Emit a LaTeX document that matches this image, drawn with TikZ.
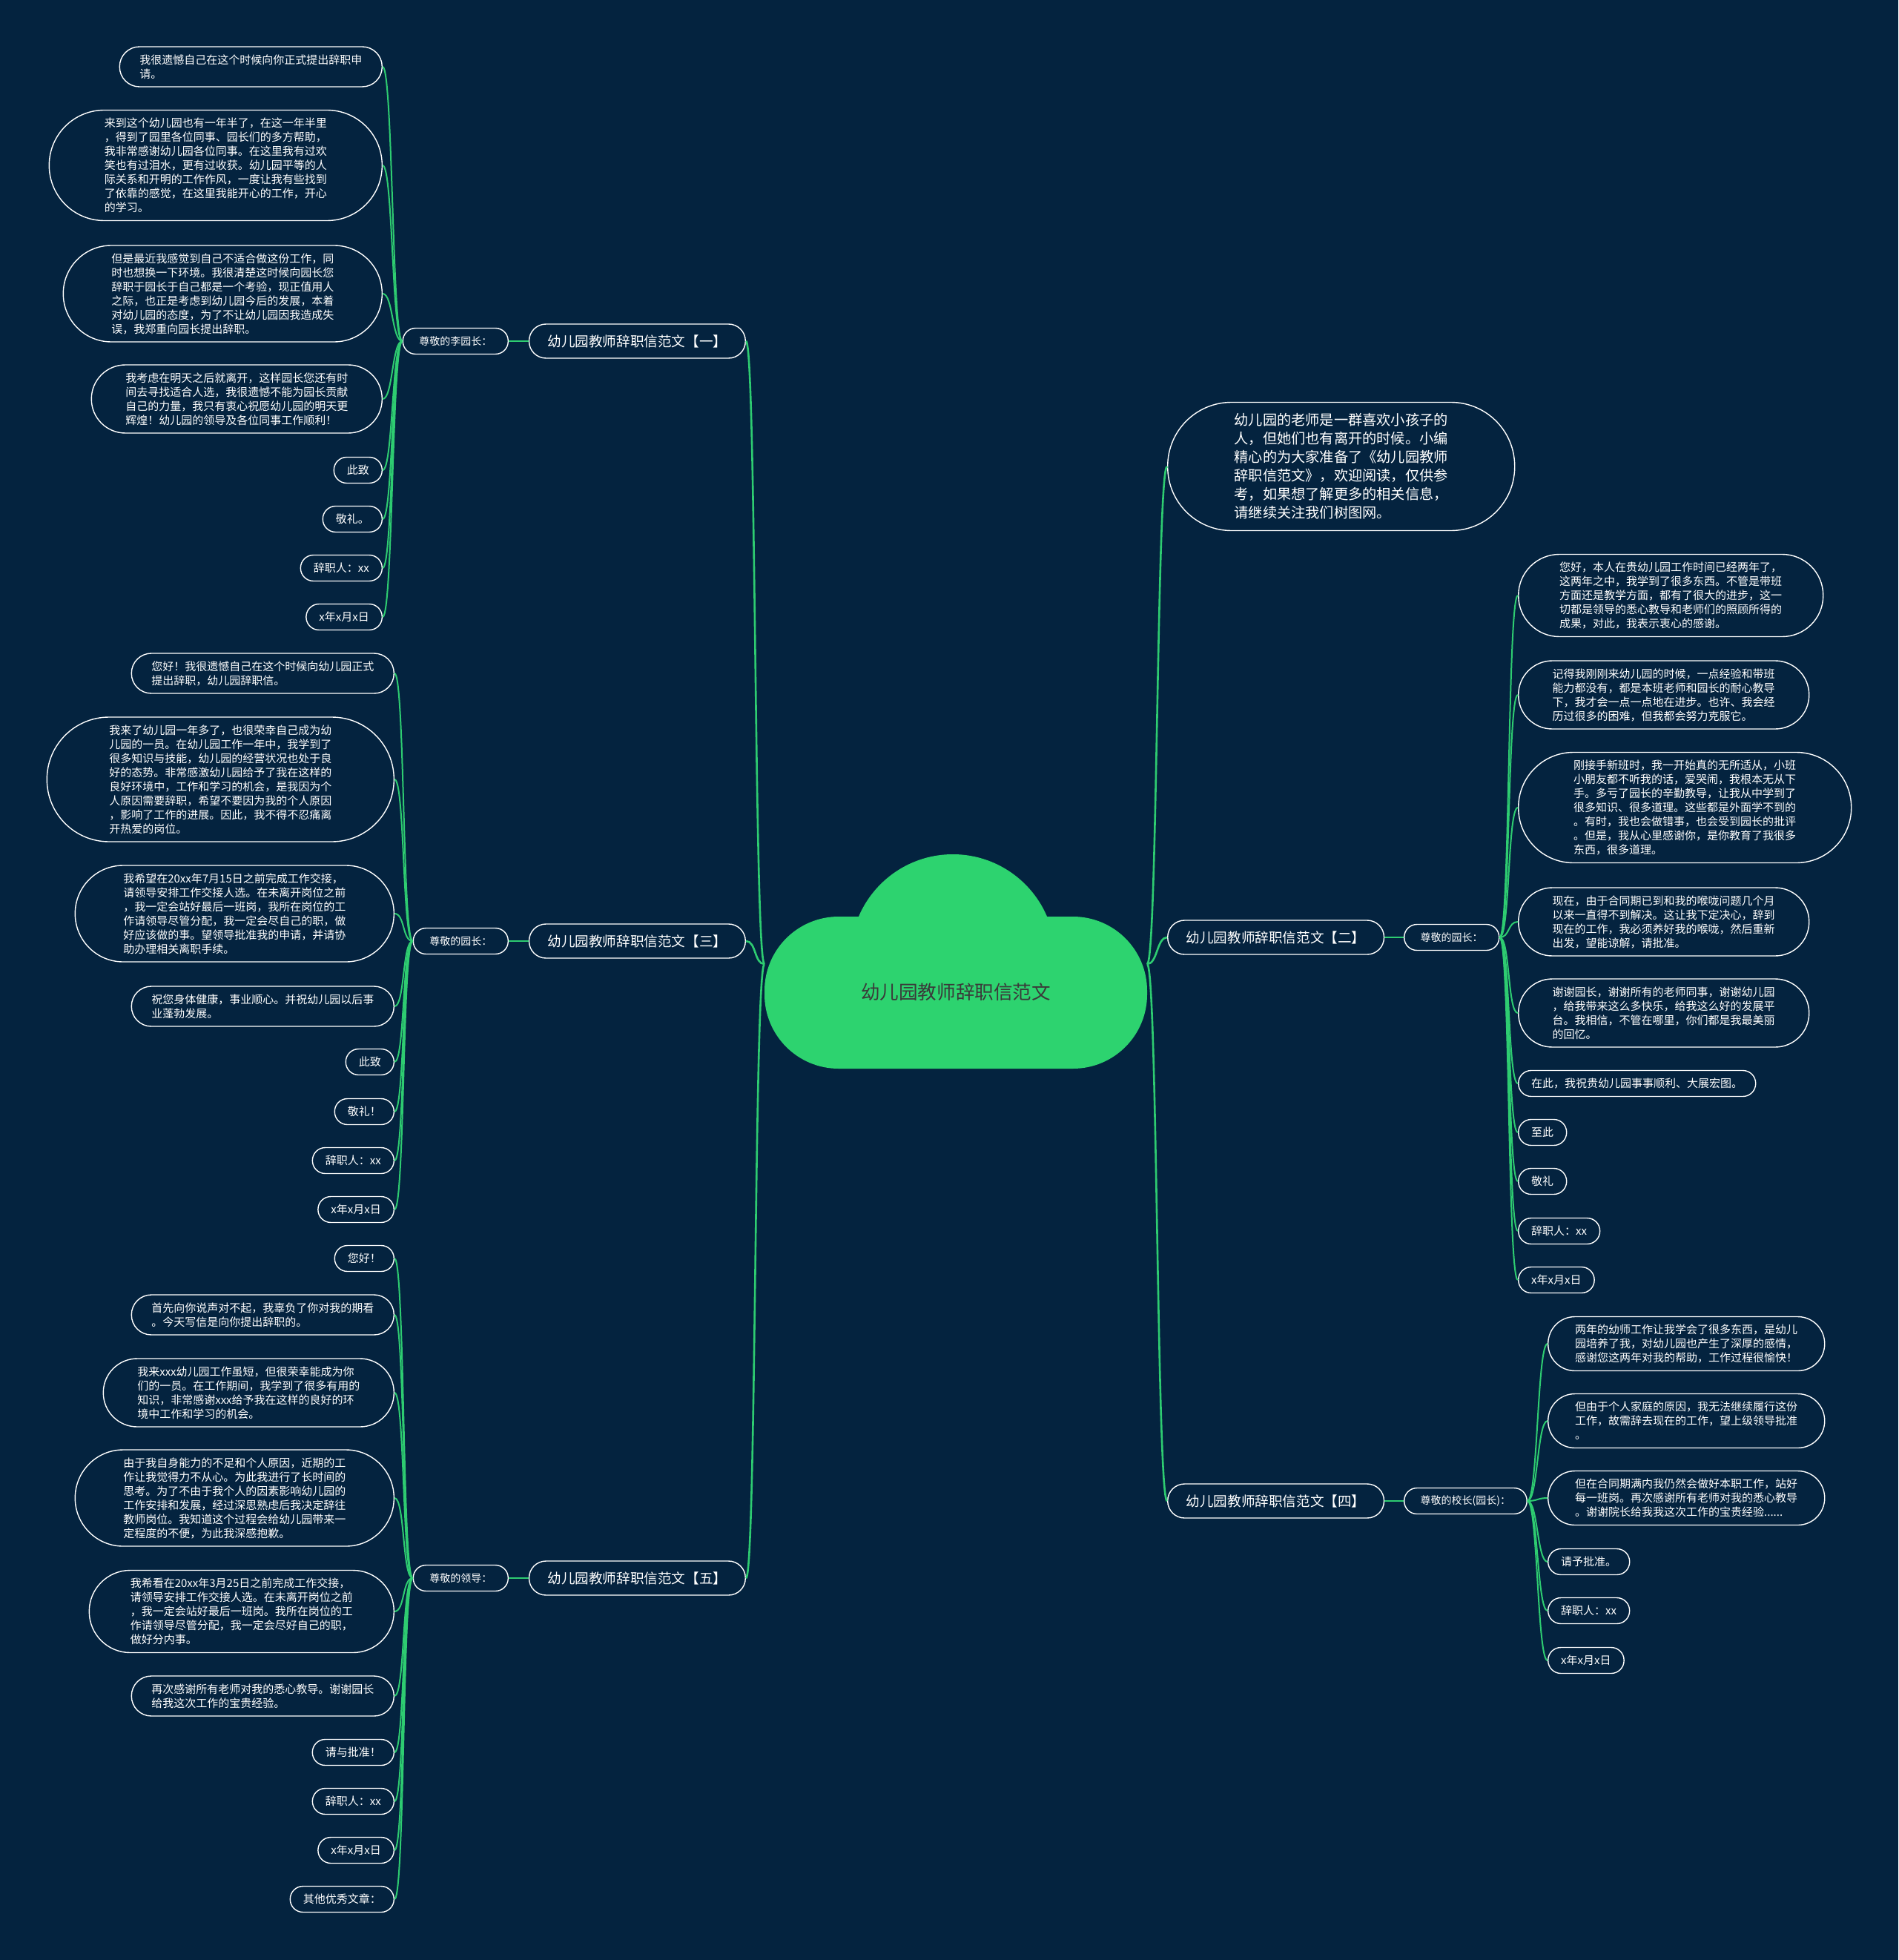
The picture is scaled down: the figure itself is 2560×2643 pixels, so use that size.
\documentclass[tikz,border=0pt]{standalone}
\usepackage{fontspec}
\setmainfont{Noto Sans CJK SC}
\definecolor{bgnavy}{HTML}{04233F}
\definecolor{leafgreen}{HTML}{2ECC71}
\definecolor{cloudgreen}{HTML}{2DD36F}
\definecolor{roottext}{HTML}{3A3A3A}
\newcommand\leaffont{\fontsize{7.5pt}{9.5pt}\selectfont}
\newcommand\tagfont{\fontsize{7pt}{9pt}\selectfont}
\newcommand\branchfont{\fontsize{9.3pt}{11pt}\selectfont}
\tikzset{
  leafbox/.style={draw=white, line width=0.7pt, fill=bgnavy, text=white, align=left, font=\leaffont,
    minimum height={9.5pt*#1+8pt}, rounded corners={4.75pt*#1+3.9pt}, inner xsep={4.75pt*#1+4pt}, inner ysep=1pt},
  tagbox/.style={draw=white, line width=0.7pt, fill=bgnavy, text=white, font=\tagfont,
    minimum height=17.5pt, rounded corners=8.6pt, inner xsep=11pt, inner ysep=1pt},
  branchbox/.style={draw=white, line width=0.7pt, fill=bgnavy, text=white, font=\branchfont,
    minimum height=23pt, rounded corners=11.4pt, inner xsep=12.5pt, inner ysep=1pt},
  trunk/.style={draw=leafgreen, line width=1.3pt},
  twig/.style={draw=leafgreen, line width=1pt},
}

\begin{document}
\begin{tikzpicture}[x=0.5pt,y=-0.5pt]
  % background
  \fill[bgnavy] (0,0) rectangle (2560,2643);
  \useasboundingbox (0,0) rectangle (2560,2643);
  % cloud
  \fill[cloudgreen, rounded corners=50pt] (1031,1236) rectangle (1547,1441);
  \fill[cloudgreen] (1285,1290) circle (69pt);
  \node[text=roottext, font=\fontsize{12.8pt}{15pt}\selectfont] (root) at (1289,1338) {幼儿园教师辞职信范文};
  \coordinate (cl) at (1031,1300);
  \coordinate (cr) at (1547,1300);

  % branches
  \node[branchbox, anchor=east] (s1) at (1006,460) {幼儿园教师辞职信范文【一】};
  \node[branchbox, anchor=west] (s2) at (1574,1264) {幼儿园教师辞职信范文【二】};
  \node[branchbox, anchor=east] (s3) at (1006,1269) {幼儿园教师辞职信范文【三】};
  \node[branchbox, anchor=west] (s4) at (1574,2024) {幼儿园教师辞职信范文【四】};
  \node[branchbox, anchor=east] (s5) at (1006,2128) {幼儿园教师辞职信范文【五】};
  \node[leafbox=6, anchor=west, font=\fontsize{9.6pt}{12.5pt}\selectfont,
    minimum height=86.5pt, rounded corners=43pt, inner xsep=45pt] (intro) at (1574,629) {幼儿园的老师是一群喜欢小孩子的\\
人，但她们也有离开的时候。小编\\
精心的为大家准备了《幼儿园教师\\
辞职信范文》，欢迎阅读，仅供参\\
考，如果想了解更多的相关信息，\\
请继续关注我们树图网。};

  % tags
  \node[tagbox, anchor=east] (t1) at (686,460) {尊敬的李园长：};
  \node[tagbox, anchor=west] (t2) at (1893,1264) {尊敬的园长：};
  \node[tagbox, anchor=east] (t3) at (686,1269) {尊敬的园长：};
  \node[tagbox, anchor=west] (t4) at (1893,2024) {尊敬的校长(园长)：};
  \node[tagbox, anchor=east] (t5) at (686,2128) {尊敬的领导：};

  % leaves of section one
  \node[leafbox=2, anchor=east] (a1) at (516,90) {我很遗憾自己在这个时候向你正式提出辞职申\\
请。};
  \node[leafbox=7, anchor=east] (a2) at (516,223) {来到这个幼儿园也有一年半了，在这一年半里\\
，得到了园里各位同事、园长们的多方帮助，\\
我非常感谢幼儿园各位同事。在这里我有过欢\\
笑也有过泪水，更有过收获。幼儿园平等的人\\
际关系和开明的工作作风，一度让我有些找到\\
了依靠的感觉，在这里我能开心的工作，开心\\
的学习。};
  \node[leafbox=6, anchor=east] (a3) at (516,396) {但是最近我感觉到自己不适合做这份工作，同\\
时也想换一下环境。我很清楚这时候向园长您\\
辞职于园长于自己都是一个考验，现正值用人\\
之际，也正是考虑到幼儿园今后的发展，本着\\
对幼儿园的态度，为了不让幼儿园因我造成失\\
误，我郑重向园长提出辞职。};
  \node[leafbox=4, anchor=east] (a4) at (516,538) {我考虑在明天之后就离开，这样园长您还有时\\
间去寻找适合人选，我很遗憾不能为园长贡献\\
自己的力量，我只有衷心祝愿幼儿园的明天更\\
辉煌！幼儿园的领导及各位同事工作顺利！};
  \node[leafbox=1, anchor=east] (a5) at (516,634) {此致};
  \node[leafbox=1, anchor=east] (a6) at (516,700) {敬礼。};
  \node[leafbox=1, anchor=east] (a7) at (516,766) {辞职人：xx};
  \node[leafbox=1, anchor=east] (a8) at (516,832) {x年x月x日};

  % leaves of section three
  \node[leafbox=2, anchor=east] (c1) at (532,908) {您好！我很遗憾自己在这个时候向幼儿园正式\\
提出辞职，幼儿园辞职信。};
  \node[leafbox=8, anchor=east] (c2) at (532,1051) {我来了幼儿园一年多了，也很荣幸自己成为幼\\
儿园的一员。在幼儿园工作一年中，我学到了\\
很多知识与技能，幼儿园的经营状况也处于良\\
好的态势。非常感激幼儿园给予了我在这样的\\
良好环境中，工作和学习的机会，是我因为个\\
人原因需要辞职，希望不要因为我的个人原因\\
，影响了工作的进展。因此，我不得不忍痛离\\
开热爱的岗位。};
  \node[leafbox=6, anchor=east] (c3) at (532,1232) {我希望在20xx年7月15日之前完成工作交接，\\
请领导安排工作交接人选。在未离开岗位之前\\
，我一定会站好最后一班岗，我所在岗位的工\\
作请领导尽管分配，我一定会尽自己的职，做\\
好应该做的事。望领导批准我的申请，并请协\\
助办理相关离职手续。};
  \node[leafbox=2, anchor=east] (c4) at (532,1357) {祝您身体健康，事业顺心。并祝幼儿园以后事\\
业蓬勃发展。};
  \node[leafbox=1, anchor=east] (c5) at (532,1432) {此致};
  \node[leafbox=1, anchor=east] (c6) at (532,1499) {敬礼！};
  \node[leafbox=1, anchor=east] (c7) at (532,1565) {辞职人：xx};
  \node[leafbox=1, anchor=east] (c8) at (532,1631) {x年x月x日};

  % leaves of section five
  \node[leafbox=1, anchor=east] (e1) at (532,1697) {您好！};
  \node[leafbox=2, anchor=east] (e2) at (532,1773) {首先向你说声对不起，我辜负了你对我的期看\\
。今天写信是向你提出辞职的。};
  \node[leafbox=4, anchor=east] (e3) at (532,1878) {我来xxx幼儿园工作虽短，但很荣幸能成为你\\
们的一员。在工作期间，我学到了很多有用的\\
知识，非常感谢xxx给予我在这样的良好的环\\
境中工作和学习的机会。};
  \node[leafbox=6, anchor=east] (e4) at (532,2020) {由于我自身能力的不足和个人原因，近期的工\\
作让我觉得力不从心。为此我进行了长时间的\\
思考。为了不由于我个人的因素影响幼儿园的\\
工作安排和发展，经过深思熟虑后我决定辞往\\
教师岗位。我知道这个过程会给幼儿园带来一\\
定程度的不便，为此我深感抱歉。};
  \node[leafbox=5, anchor=east] (e5) at (532,2173) {我希看在20xx年3月25日之前完成工作交接，\\
请领导安排工作交接人选。在未离开岗位之前\\
，我一定会站好最后一班岗。我所在岗位的工\\
作请领导尽管分配，我一定会尽好自己的职，\\
做好分内事。};
  \node[leafbox=2, anchor=east] (e6) at (532,2287) {再次感谢所有老师对我的悉心教导。谢谢园长\\
给我这次工作的宝贵经验。};
  \node[leafbox=1, anchor=east] (e7) at (532,2363) {请与批准！};
  \node[leafbox=1, anchor=east] (e8) at (532,2429) {辞职人：xx};
  \node[leafbox=1, anchor=east] (e9) at (532,2495) {x年x月x日};
  \node[leafbox=1, anchor=east] (e10) at (532,2561) {其他优秀文章：};

  % leaves of section two
  \node[leafbox=5, anchor=west] (b1) at (2047,803) {您好，本人在贵幼儿园工作时间已经两年了，\\
这两年之中，我学到了很多东西。不管是带班\\
方面还是教学方面，都有了很大的进步，这一\\
切都是领导的悉心教导和老师们的照顾所得的\\
成果，对此，我表示衷心的感谢。};
  \node[leafbox=4, anchor=west] (b2) at (2047,937) {记得我刚刚来幼儿园的时候，一点经验和带班\\
能力都没有，都是本班老师和园长的耐心教导\\
下，我才会一点一点地在进步。也许、我会经\\
历过很多的困难，但我都会努力克服它。};
  \node[leafbox=7, anchor=west] (b3) at (2047,1089) {刚接手新班时，我一开始真的无所适从，小班\\
小朋友都不听我的话，爱哭闹，我根本无从下\\
手。多亏了园长的辛勤教导，让我从中学到了\\
很多知识、很多道理。这些都是外面学不到的\\
。有时，我也会做错事，也会受到园长的批评\\
。但是，我从心里感谢你，是你教育了我很多\\
东西，很多道理。};
  \node[leafbox=4, anchor=west] (b4) at (2047,1243) {现在，由于合同期已到和我的喉咙问题几个月\\
以来一直得不到解决。这让我下定决心，辞到\\
现在的工作，我必须养好我的喉咙，然后重新\\
出发，望能谅解，请批准。};
  \node[leafbox=4, anchor=west] (b5) at (2047,1366) {谢谢园长，谢谢所有的老师同事，谢谢幼儿园\\
，给我带来这么多快乐，给我这么好的发展平\\
台。我相信，不管在哪里，你们都是我最美丽\\
的回忆。};
  \node[leafbox=1, anchor=west] (b6) at (2047,1461) {在此，我祝贵幼儿园事事顺利、大展宏图。};
  \node[leafbox=1, anchor=west] (b7) at (2047,1527) {至此};
  \node[leafbox=1, anchor=west] (b8) at (2047,1593) {敬礼};
  \node[leafbox=1, anchor=west] (b9) at (2047,1660) {辞职人：xx};
  \node[leafbox=1, anchor=west] (b10) at (2047,1726) {x年x月x日};

  % leaves of section four
  \node[leafbox=3, anchor=west] (d1) at (2087,1812) {两年的幼师工作让我学会了很多东西，是幼儿\\
园培养了我，对幼儿园也产生了深厚的感情，\\
感谢您这两年对我的帮助，工作过程很愉快！};
  \node[leafbox=3, anchor=west] (d2) at (2087,1916) {但由于个人家庭的原因，我无法继续履行这份\\
工作，故需辞去现在的工作，望上级领导批准\\
。};
  \node[leafbox=3, anchor=west] (d3) at (2087,2020) {但在合同期满内我仍然会做好本职工作，站好\\
每一班岗。再次感谢所有老师对我的悉心教导\\
。谢谢院长给我我这次工作的宝贵经验......};
  \node[leafbox=1, anchor=west] (d4) at (2087,2106) {请予批准。};
  \node[leafbox=1, anchor=west] (d5) at (2087,2172) {辞职人：xx};
  \node[leafbox=1, anchor=west] (d6) at (2087,2239) {x年x月x日};

  % lines
  \foreach \s in {s1,s3,s5}
    \draw[trunk] (cl) .. controls +(-14,0) and +(14,0) .. (\s.east);
  \foreach \s in {s2,s4,intro}
    \draw[trunk] (cr) .. controls +(14,0) and +(-14,0) .. (\s.west);
  \foreach \s/\t in {s1/t1,s3/t3,s5/t5}
    \draw[twig] (\s.west) -- (\t.east);
  \foreach \s/\t in {s2/t2,s4/t4}
    \draw[twig] (\s.east) -- (\t.west);
  \foreach \i in {1,...,8}
    \draw[twig] (t1.west) .. controls +(-14,0) and +(14,0) .. (a\i.east);
  \foreach \i in {1,...,8}
    \draw[twig] (t3.west) .. controls +(-14,0) and +(14,0) .. (c\i.east);
  \foreach \i in {1,...,10}
    \draw[twig] (t5.west) .. controls +(-14,0) and +(14,0) .. (e\i.east);
  \foreach \i in {1,...,10}
    \draw[twig] (t2.east) .. controls +(14,0) and +(-14,0) .. (b\i.west);
  \foreach \i in {1,...,6}
    \draw[twig] (t4.east) .. controls +(14,0) and +(-14,0) .. (d\i.west);
\end{tikzpicture}
\end{document}
